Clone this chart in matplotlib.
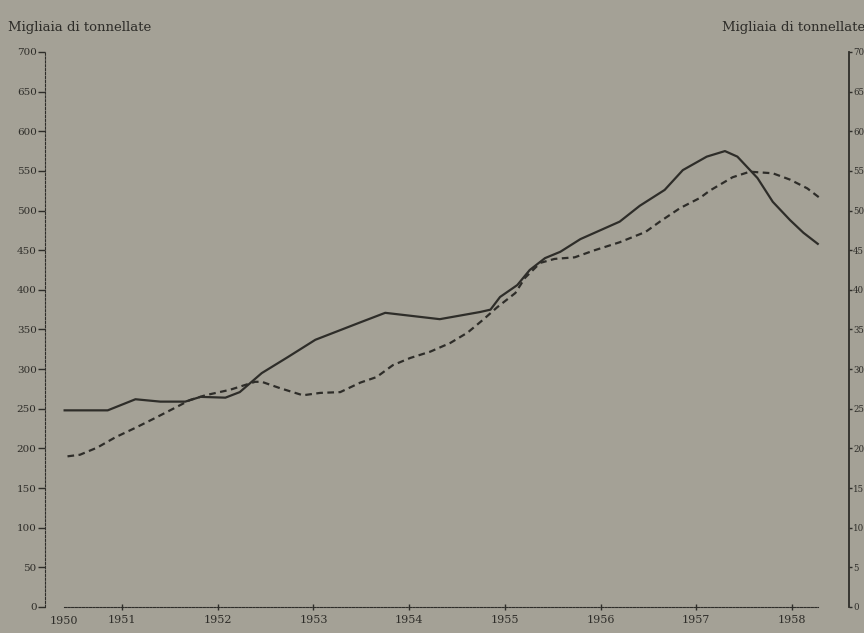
import matplotlib.pyplot as plt

# Data (years as decimals)
solid_years = [1950.40, 1950.85, 1951.14, 1951.40, 1951.66, 1951.82, 1952.08, 1952.23,
               1952.46, 1952.73, 1953.02, 1953.49, 1953.75, 1954.32, 1954.74, 1954.85,
               1954.95, 1955.13, 1955.26, 1955.42, 1955.58, 1955.79, 1956.20, 1956.41,
               1956.67, 1956.86, 1957.11, 1957.30, 1957.43, 1957.64, 1957.80, 1957.98,
               1958.12, 1958.27]
solid_values = [248, 248, 262, 259, 259, 265, 264, 271,
                295, 315, 337, 359, 371, 363, 372, 375,
                391, 406, 425, 440, 448, 464, 486, 506,
                526, 551, 568, 575, 568, 541, 511, 488,
                472, 458]

dashed_years = [1950.43, 1950.56, 1950.74, 1950.93, 1951.14, 1951.34, 1951.55, 1951.71,
                1951.87, 1952.13, 1952.39, 1952.46, 1952.65, 1952.89, 1953.07, 1953.28,
                1953.49, 1953.66, 1953.83, 1954.01, 1954.22, 1954.43, 1954.61, 1954.77,
                1954.92, 1955.11, 1955.21, 1955.37, 1955.52, 1955.73, 1955.94, 1956.20,
                1956.47, 1956.62, 1956.83, 1957.04, 1957.14, 1957.38, 1957.56, 1957.80,
                1957.98, 1958.16, 1958.29]
dashed_values = [19.0, 19.2, 20.1, 21.4, 22.6, 23.8, 25.1, 26.1,
                 26.7, 27.4, 28.4, 28.4, 27.6, 26.7, 27.0, 27.1,
                 28.3, 29.0, 30.5, 31.4, 32.2, 33.3, 34.6, 36.2,
                 37.8, 39.6, 41.5, 43.4, 43.9, 44.1, 45.0, 46.0,
                 47.3, 48.6, 50.3, 51.6, 52.5, 54.2, 54.9, 54.7,
                 53.9, 52.8, 51.6]

left_ticks = [0, 50, 100, 150, 200, 250, 300, 350, 400, 450, 500, 550, 600, 650, 700]
right_ticks = [0, 5, 10, 15, 20, 25, 30, 35, 40, 45, 50, 55, 60, 65, 70]
year_ticks = [1951, 1952, 1953, 1954, 1955, 1956, 1957, 1958]
unit_label = "Migliaia di tonnellate"

bg = "#a4a196"
ink = "#2e2d29"
font = "DejaVu Serif"

fig = plt.figure(figsize=(8.64, 6.33), dpi=100, facecolor=bg)
ax = fig.add_axes([0.0521, 0.0411, 0.9306, 0.8768])
ax.set_facecolor(bg)
ax2 = ax.twinx()

ax.plot(solid_years, solid_values, color=ink, lw=1.6)
ax2.plot(dashed_years, dashed_values, color=ink, lw=1.6, linestyle=(0, (3, 2)))

ax.set_xlim(1950.195, 1958.597)
ax.set_ylim(0, 700)
ax2.set_ylim(0, 70)

# spines
for s in ["top", "right"]:
    ax.spines[s].set_visible(False)
for s in ["top", "left", "bottom"]:
    ax2.spines[s].set_visible(False)
ax.spines["left"].set_linestyle((0, (2, 1.5)))
ax.spines["left"].set_color(ink)
ax.spines["bottom"].set_linestyle((0, (2, 1.2)))
ax.spines["bottom"].set_color(ink)
ax.spines["bottom"].set_bounds(1950.39, 1958.27)
ax2.spines["right"].set_color(ink)
ax2.spines["right"].set_linewidth(1.3)

ax.set_yticks(left_ticks)
ax.set_yticklabels([str(v) for v in left_ticks], fontsize=7.5, family=font, color=ink)
ax.tick_params(axis="y", length=5, width=1, color=ink, pad=1)
ax2.set_yticks(right_ticks)
ax2.set_yticklabels([str(v) for v in right_ticks], fontsize=6.2, family=font, color=ink)
ax2.tick_params(axis="y", length=2.5, width=1, color=ink, pad=0.3)

ax.set_xticks(year_ticks)
ax.set_xticklabels([str(y) for y in year_ticks], fontsize=8, family=font, color=ink)
ax.tick_params(axis="x", direction="inout", length=5, width=1, color=ink, pad=3)
ax.text(1950.39, -11, "1950", fontsize=8, family=font, color=ink, ha="center", va="top")

fig.text(8 / 864, 1 - 28 / 633, unit_label, fontsize=9.5, family=font, color=ink,
         ha="left", va="center")
fig.text(722 / 864, 1 - 28 / 633, unit_label, fontsize=9.5, family=font, color=ink,
         ha="left", va="center")

plt.savefig("out.png", dpi=100, facecolor=bg)
